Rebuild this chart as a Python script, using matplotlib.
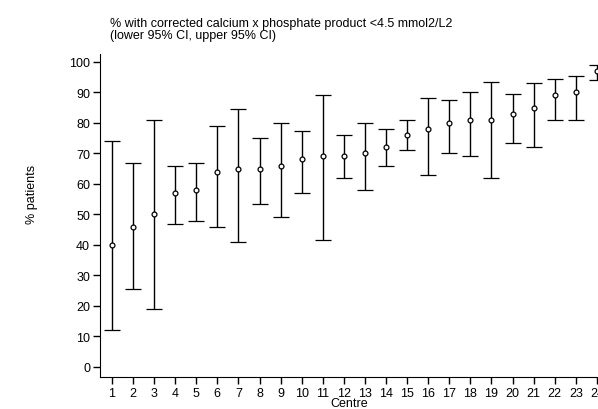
import numpy as np
import matplotlib
matplotlib.use('Agg')
import matplotlib.pyplot as plt

centre = np.arange(1, 25)
pct = [40, 46, 50, 57, 58, 64, 65, 65, 66, 68, 69, 69, 70, 72, 76, 78, 80, 81, 81, 83, 85, 89, 90, 97]
lower = [12, 25.5, 19, 47, 48, 46, 41, 53.5, 49, 57, 41.5, 62, 58, 66, 71, 63, 70, 69, 62, 73.5, 72, 81, 81, 94]
upper = [74, 67, 81, 66, 67, 79, 84.5, 75, 80, 77.5, 89, 76, 80, 78, 81, 88, 87.5, 90, 93.5, 89.5, 93, 94.5, 95.5, 99]

plt.rcParams['font.family'] = ['Liberation Sans', 'DejaVu Sans']
fig = plt.figure(figsize=(5.98, 4.10), dpi=100)
ax = fig.add_axes([0.167, 0.078, 0.833, 0.788])

pct = np.array(pct)
err = [pct - np.array(lower), np.array(upper) - pct]
eb = ax.errorbar(centre, pct, yerr=err, fmt='o', ms=3.5, mfc='white', mec='black', mew=0.9,
                 ecolor='black', elinewidth=1, capsize=6, capthick=1, color='black')
for art in [eb[0], *eb[1], *eb[2]]:
    art.set_clip_on(False)

ax.set_xlim(0.43, 24.05)
ax.set_ylim(-3.3, 102.6)
ax.set_xticks(centre)
ax.set_yticks(range(0, 101, 10))
ax.tick_params(labelsize=9, length=5, width=1, pad=2)
for s in ['top', 'right']:
    ax.spines[s].set_visible(False)
ax.set_xlabel('Centre', fontsize=9, labelpad=-1)
fig.text(0.053, 0.525, '% patients', rotation=90, fontsize=9, va='center', ha='center')
fig.text(0.184, 0.955, '% with corrected calcium x phosphate product <4.5 mmol2/L2\n(lower 95% CI, upper 95% CI)',
         fontsize=9, va='top', ha='left', linespacing=0.95)

fig.savefig('out.png', dpi=100)
